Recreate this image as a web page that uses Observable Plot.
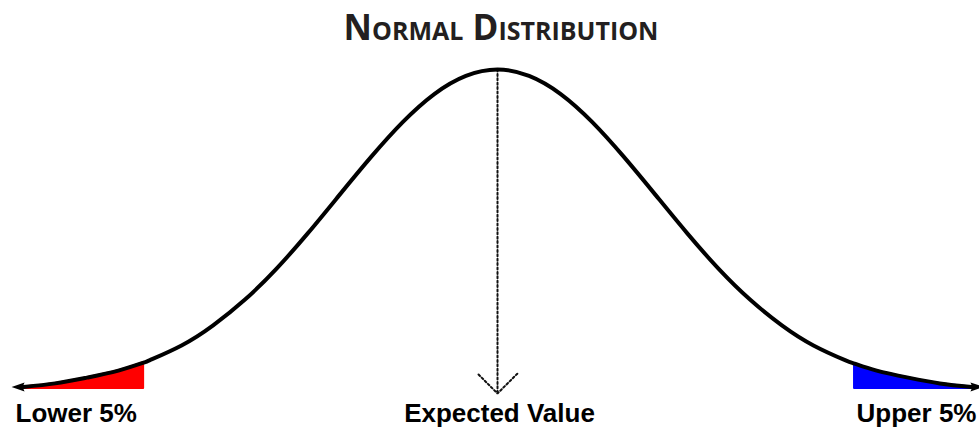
<!DOCTYPE html>
<html><head><meta charset="utf-8">
<script src="https://cdn.jsdelivr.net/npm/d3@7"></script>
<script src="https://cdn.jsdelivr.net/npm/@observablehq/plot@0.6"></script>
<style>html,body{margin:0;padding:0;background:#fff;overflow:hidden}</style>
</head><body><div id="chart"></div>
<script>
// Values: x in standard deviations from the mean, density relative to the peak
const xValues = [-3.0, -2.8, -2.6, -2.4, -2.24, -2.2, -2.0, -1.8, -1.6, -1.4, -1.2, -1.0, -0.8, -0.6, -0.4, -0.2, 0, 0.2, 0.4, 0.6, 0.8, 1.0, 1.2, 1.4, 1.6, 1.8, 2.0, 2.2, 2.26, 2.4, 2.6, 2.8, 3.0];
const density = [0.005, 0.016, 0.034, 0.056, 0.081, 0.089, 0.135, 0.198, 0.278, 0.375, 0.487, 0.607, 0.726, 0.835, 0.923, 0.980, 1.000, 0.980, 0.923, 0.835, 0.726, 0.607, 0.487, 0.375, 0.278, 0.198, 0.135, 0.089, 0.078, 0.056, 0.034, 0.016, 0.005];
const lowerCut = -2.24;
const upperCut = 2.26;
const meanValue = 0;
const titleText = "Normal Distribution";
const lowerLabel = "Lower 5%";
const meanLabel = "Expected Value";
const upperLabel = "Upper 5%";

const points = xValues.map((x, i) => ({x, d: density[i]}));
const lowerTail = points.filter(p => p.x <= lowerCut);
const upperTail = points.filter(p => p.x >= upperCut);
const peak = d3.max(density);

const arrowLeft = {draw(ctx, size) {
  const s = Math.sqrt(size / Math.PI);
  ctx.moveTo(-12 * s, 0); ctx.lineTo(1 * s, -4.5 * s); ctx.lineTo(-1 * s, 0); ctx.lineTo(1 * s, 4.5 * s); ctx.closePath();
}};
const arrowRight = {draw(ctx, size) {
  const s = Math.sqrt(size / Math.PI);
  ctx.moveTo(12 * s, 0); ctx.lineTo(-1 * s, -4.5 * s); ctx.lineTo(1 * s, 0); ctx.lineTo(-1 * s, 4.5 * s); ctx.closePath();
}};

const labelFont = {fontFamily: "Liberation Sans, Arial, sans-serif", fontWeight: "bold", fontSize: 26, fill: "#000", lineAnchor: "bottom", dy: 33};

const chart = Plot.plot({
  width: 979, height: 427,
  marginTop: 69, marginBottom: 39, marginLeft: 0, marginRight: 0,
  x: {domain: [-3.146, 3.051], axis: null},
  y: {domain: [0, 1], axis: null},
  style: {background: "#fff", overflow: "hidden"},
  marks: [
    Plot.areaY(lowerTail, {x: "x", y: "d", fill: "#ff0000", stroke: "#ff0000", strokeWidth: 2, curve: "natural"}),
    Plot.areaY(upperTail, {x: "x", y: "d", fill: "#0000ff", stroke: "#0000ff", strokeWidth: 2, curve: "natural"}),
    Plot.arrow([meanValue], {x: d => d, y1: () => peak, y2: () => 0, stroke: "#111", strokeWidth: 2, strokeDasharray: "2,2.4", headAngle: 90, headLength: 21, insetEnd: -5}),
    Plot.line(points, {x: "x", y: "d", stroke: "#000", strokeWidth: 4, curve: "natural"}),
    Plot.dot([points[0]], {x: "x", y: "d", r: 1, symbol: arrowLeft, fill: "#000", stroke: "none"}),
    Plot.dot([points[points.length - 1]], {x: "x", y: "d", r: 1, symbol: arrowRight, fill: "#000", stroke: "none"}),
    Plot.text([titleText], {frameAnchor: "top", text: d => d, dx: 11, dy: -29.5, lineAnchor: "bottom", fontSize: 35, fontWeight: "bold", fontFamily: "Open Sans, sans-serif", fontVariant: "small-caps", fill: "#231f20"}),
    Plot.text([lowerLabel], {x: () => xValues[0], y: () => 0, text: d => d, textAnchor: "start", dx: -8, ...labelFont}),
    Plot.text([meanLabel], {x: () => meanValue, y: () => 0, text: d => d, textAnchor: "middle", dx: 2, ...labelFont}),
    Plot.text([upperLabel], {x: () => upperCut, y: () => 0, text: d => d, textAnchor: "start", dx: 2, ...labelFont})
  ]
});
document.getElementById("chart").appendChild(chart);
</script>
</body></html>
